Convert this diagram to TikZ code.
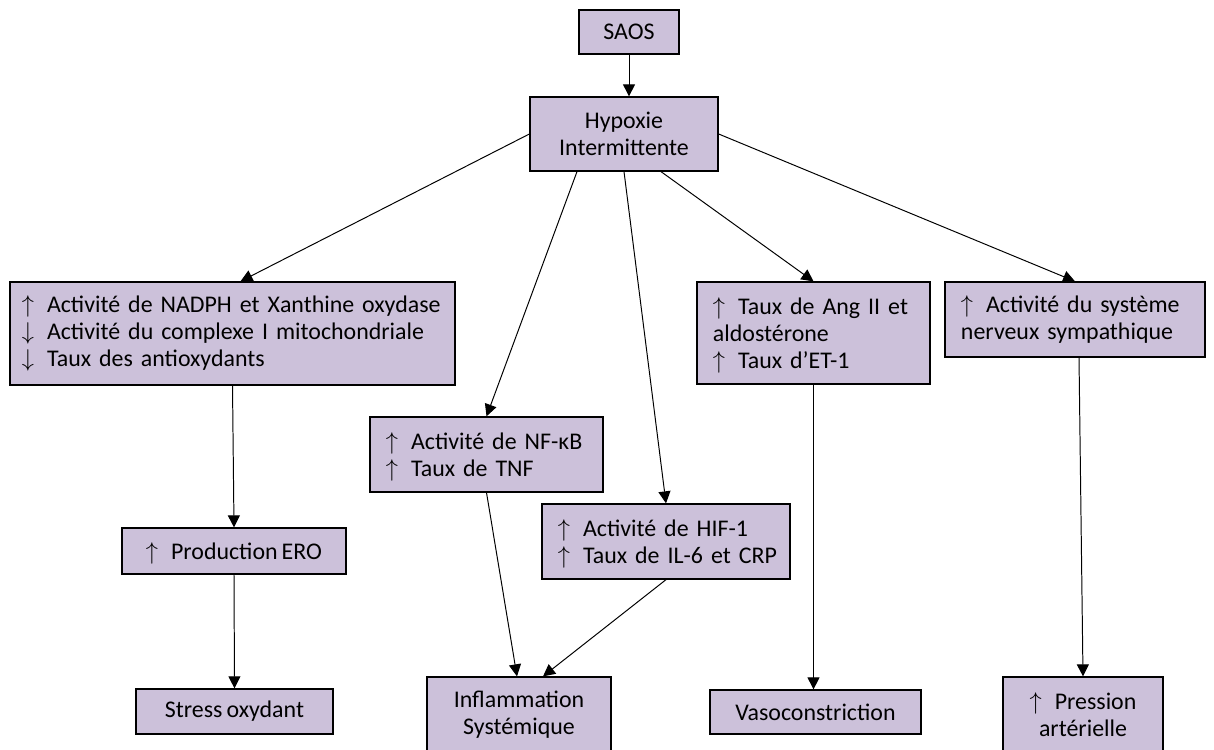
\documentclass[tikz,border=0pt]{standalone}
\usepackage{fontspec}
\setmainfont{Carlito}[WordSpace=0.75]
\usepackage{tikz}
\usetikzlibrary{arrows.meta,shapes}

\definecolor{mauve}{HTML}{CCC1DA}
\newcommand{\hausse}{\makebox[1.05em][l]{\smash{$\uparrow$}}}
\newcommand{\baisse}{\makebox[1.05em][l]{\smash{$\downarrow$}}}
\newcommand{\ligne}[1]{\mbox{#1}}
\hyphenpenalty=10000
\exhyphenpenalty=10000

\begin{document}
\begin{tikzpicture}[x=0.025cm,y=-0.025cm,
  boite/.style={draw,line width=0.9pt,fill=mauve,inner ysep=0pt,inner xsep=2pt,
    align=center,font=\fontsize{17}{19.2}\selectfont},
  gauche/.style={align=left,inner xsep=4mm},
  fleche/.style={line width=0.7pt,-{Triangle[length=3mm,width=3mm]}}]
\useasboundingbox (0,0) rectangle (1214,749);

\node[boite,minimum width=2.5cm,minimum height=1.1cm] (saos) at (629,32) {SAOS};
\node[boite,minimum width=4.7cm,minimum height=1.85cm] (hyp) at (624,134) {Hypoxie\\Intermittente};

% deuxieme niveau
\node[boite,gauche,inner xsep=3mm,text width=10.525cm,minimum height=2.575cm] (nadph) at (232.5,333.5)
  {\ligne{\hausse Activité de NADPH et Xanthine oxydase}\\\ligne{\baisse Activité du complexe I mitochondriale}\\\ligne{\baisse Taux des antioxydants}};
\node[boite,gauche,text width=5.025cm,minimum height=1.875cm] (nfkb) at (486.5,454.5)
  {\ligne{\hausse Activité de NF-κB}\\\ligne{\hausse Taux de TNF}};
\node[boite,gauche,text width=5.4cm,minimum height=1.875cm] (hif) at (666,541.5)
  {\ligne{\hausse Activité de HIF-1}\\\ligne{\hausse Taux de IL-6 et CRP}};
\node[boite,gauche,text width=5.025cm,minimum height=2.55cm] (ang) at (813.5,333)
  {\ligne{\hausse Taux de Ang II et}\\aldostérone\\\ligne{\hausse Taux d’ET-1}};
\node[boite,gauche,text width=5.7cm,minimum height=1.875cm] (sns) at (1075,319.5)
  {\ligne{\hausse Activité du système}\\\ligne{nerveux sympathique}};
\node[boite,minimum width=5.6cm,minimum height=1.15cm] (ero) at (234,551) {\hausse Production ERO};

% consequences
\node[boite,minimum width=4.925cm,minimum height=1.125cm] (stress) at (234.5,711.5) {Stress oxydant};
\node[boite,minimum width=4.6cm,minimum height=1.875cm] (inflam) at (519,714.5) {Inflammation\\Systémique};
\node[boite,minimum width=5.275cm,minimum height=1.1cm] (vaso) at (815.5,712) {Vasoconstriction};
\node[boite,minimum width=4cm,minimum height=1.875cm] (pa) at (1083,714.5) {\hausse Pression\\artérielle};

\draw[fleche] (saos.south) -- (saos.south |- hyp.north);
\draw[fleche] (hyp.west) -- ([xshift=0.2cm]nadph.north);
\draw[fleche] ([xshift=-1.175cm]hyp.south) -- (nfkb.north);
\draw[fleche] (hyp.south) -- (hif.north);
\draw[fleche] ([xshift=0.925cm]hyp.south) -- (ang.north);
\draw[fleche] (hyp.east) -- (sns.north);
\draw[fleche] (nadph.south) -- (ero.north);
\draw[fleche] (ero.south) -- (stress.north);
\draw[fleche] (nfkb.south) -- ([xshift=-0.05cm]inflam.north);
\draw[fleche] (hif.south) -- ([xshift=0.6cm]inflam.north);
\draw[fleche] (ang.south) -- (ang.south |- vaso.north);
\draw[fleche] ([xshift=0.1cm]sns.south) -- (pa.north);
\end{tikzpicture}
\end{document}
